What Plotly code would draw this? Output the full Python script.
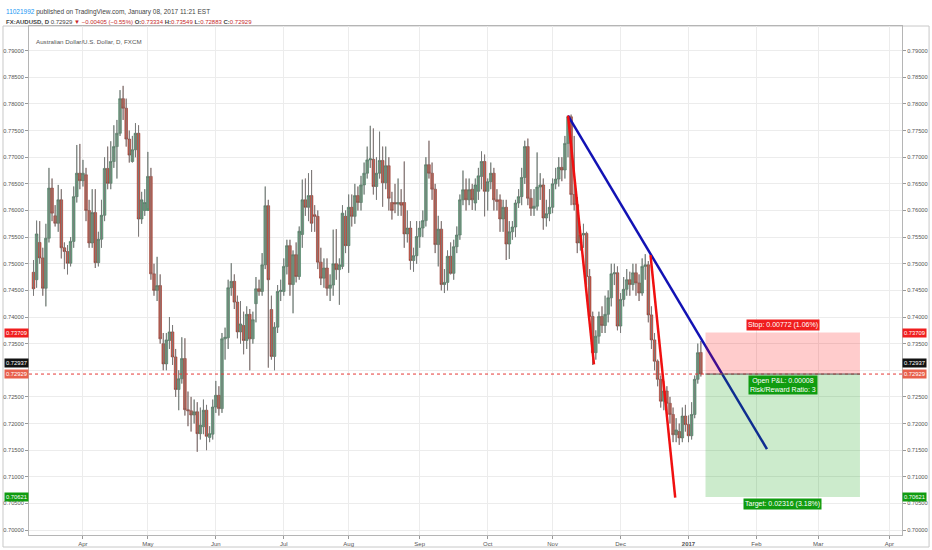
import plotly.graph_objects as go

# daily AUD/USD bars, 10 Mar 2016 .. 6 Jan 2017 (bar index = trading day)
opens = [
    .7484, .7470, .7540, .7511, .7454, .7548, .7642, .7590, .7576, .7620,
    .7530, .7523, .7501, .7542, .7626, .7670, .7656, .7667, .7600, .7539,
    .7596, .7502, .7546, .7591, .7679, .7651, .7692, .7720, .7745, .7810,
    .7792, .7734, .7692, .7714, .7745, .7584, .7600, .7600, .7664, .7481,
    .7450, .7459, .7350, .7312, .7356, .7372, .7325, .7264, .7284, .7322,
    .7226, .7224, .7216, .7222, .7181, .7194, .7225, .7174, .7180, .7231,
    .7253, .7228, .7359, .7361, .7455, .7467, .7428, .7372, .7384, .7356,
    .7405, .7359, .7425, .7453, .7448, .7498, .7609, .7414, .7326, .7381,
    .7448, .7448, .7495, .7534, .7461, .7517, .7476, .7555, .7620, .7606,
    .7628, .7592, .7589, .7503, .7473, .7492, .7454, .7460, .7500, .7489,
    .7495, .7589, .7534, .7606, .7589, .7628, .7615, .7648, .7670, .7695,
    .7696, .7645, .7670, .7694, .7652, .7684, .7615, .7615, .7612, .7615,
    .7615, .7556, .7567, .7506, .7515, .7551, .7567, .7581, .7686, .7670,
    .7640, .7536, .7565, .7461, .7465, .7514, .7482, .7532, .7554, .7620,
    .7639, .7620, .7640, .7614, .7636, .7664, .7692, .7636, .7654, .7670,
    .7620, .7620, .7584, .7606, .7537, .7560, .7569, .7614, .7626, .7662,
    .7720, .7623, .7604, .7608, .7644, .7648, .7586, .7594, .7606, .7650,
    .7659, .7681, .7676, .7726, .7776, .7630, .7611, .7539, .7554, .7557,
    .7476, .7401, .7333, .7364, .7401, .7384, .7405, .7436, .7481, .7483,
    .7383, .7433, .7452, .7470, .7461, .7483, .7464, .7445, .7495, .7498,
    .7404, .7357, .7317, .7283, .7242, .7261, .7238, .7217, .7179, .7185,
    .7173, .7214, .7198, .7177, .7217, .7283, .73334,
]
highs = [
    .7507, .7581, .7580, .7530, .7575, .7680, .7660, .7610, .7648, .7640,
    .7540, .7535, .7550, .7645, .7723, .7725, .7695, .7680, .7620, .7640,
    .7640, .7560, .7620, .7700, .7720, .7730, .7760, .7770, .7826, .7834,
    .7810, .7750, .7740, .7764, .7760, .7635, .7640, .7710, .7680, .7500,
    .7513, .7480, .7370, .7370, .7400, .7385, .7340, .7300, .7362, .7360,
    .7260, .7250, .7245, .7240, .7230, .7245, .7235, .7195, .7245, .7280,
    .7270, .7370, .7380, .7470, .7501, .7480, .7440, .7430, .7410, .7420,
    .7415, .7410, .7475, .7470, .7520, .7645, .7620, .7440, .7390, .7460,
    .7470, .7510, .7545, .7545, .7525, .7540, .7570, .7658, .7660, .7670,
    .7676, .7610, .7600, .7530, .7510, .7510, .7480, .7564, .7565, .7510,
    .7610, .7600, .7630, .7630, .7650, .7645, .7665, .7690, .7720, .7759,
    .7754, .7700, .7748, .7720, .7720, .7700, .7635, .7650, .7660, .7640,
    .7692, .7600, .7580, .7530, .7580, .7580, .7600, .7700, .7731, .7690,
    .7650, .7590, .7580, .7490, .7525, .7540, .7545, .7570, .7630, .7675,
    .7660, .7660, .7650, .7660, .7680, .7711, .7705, .7660, .7690, .7680,
    .7640, .7630, .7620, .7620, .7580, .7580, .7620, .7640, .7680, .7731,
    .7735, .7640, .7640, .7709, .7670, .7660, .7620, .7640, .7660, .7680,
    .7700, .7700, .7740, .7778, .7780, .7740, .7625, .7570, .7575, .7560,
    .7490, .7410, .7375, .7410, .7420, .7440, .7450, .7500, .7500, .7495,
    .7445, .7475, .7490, .7485, .7500, .7500, .7480, .7510, .7518, .7505,
    .7420, .7370, .7320, .7290, .7280, .7270, .7250, .7230, .7210, .7200,
    .7230, .7235, .7215, .7240, .7290, .7350, .73549,
]
lows = [
    .7440, .7455, .7500, .7440, .7420, .7540, .7580, .7570, .7560, .7510,
    .7490, .7480, .7495, .7530, .7615, .7640, .7645, .7580, .7530, .7530,
    .7492, .7495, .7530, .7580, .7640, .7640, .7680, .7660, .7740, .7770,
    .7720, .7690, .7690, .7700, .7551, .7575, .7590, .7605, .7470, .7440,
    .7430, .7350, .7300, .7300, .7340, .7310, .7250, .7225, .7275, .7215,
    .7195, .7185, .7200, .7147, .7170, .7180, .7150, .7165, .7170, .7220,
    .7215, .7220, .7320, .7340, .7440, .7415, .7360, .7350, .7330, .7340,
    .7300, .7350, .7390, .7440, .7440, .7490, .7305, .7320, .7300, .7370,
    .7430, .7440, .7480, .7440, .7407, .7465, .7470, .7530, .7590, .7580,
    .7560, .7560, .7490, .7460, .7455, .7440, .7430, .7440, .7470, .7423,
    .7490, .7520, .7483, .7570, .7575, .7600, .7600, .7630, .7660, .7680,
    .7630, .7620, .7660, .7607, .7640, .7600, .7583, .7595, .7590, .7590,
    .7530, .7540, .7489, .7485, .7500, .7530, .7550, .7570, .7660, .7620,
    .7520, .7495, .7450, .7445, .7450, .7480, .7470, .7520, .7545, .7610,
    .7600, .7610, .7601, .7600, .7620, .7640, .7589, .7600, .7640, .7600,
    .7600, .7560, .7560, .7507, .7509, .7545, .7550, .7605, .7610, .7650,
    .7610, .7590, .7590, .7600, .7620, .7564, .7570, .7580, .7595, .7640,
    .7645, .7655, .7660, .7700, .7610, .7600, .7520, .7525, .7530, .7460,
    .7390, .7310, .7320, .7350, .7370, .7370, .7390, .7420, .7460, .7375,
    .7370, .7420, .7440, .7440, .7450, .7440, .7430, .7440, .7470, .7390,
    .7340, .7300, .7270, .7230, .7225, .7220, .7200, .7165, .7165, .7160,
    .7165, .7185, .7165, .7170, .7210, .7275, .72883,
]
closes = [
    .7453, .7556, .7511, .7454, .7548, .7642, .7595, .7576, .7620, .7530,
    .7523, .7501, .7542, .7626, .7670, .7656, .7670, .7600, .7539, .7596,
    .7502, .7546, .7591, .7679, .7651, .7692, .7720, .7745, .7810, .7792,
    .7734, .7704, .7714, .7745, .7584, .7620, .7615, .7664, .7481, .7450,
    .7459, .7359, .7312, .7357, .7372, .7325, .7264, .7284, .7322, .7226,
    .7224, .7216, .7222, .7181, .7197, .7225, .7176, .7181, .7231, .7253,
    .7228, .7359, .7362, .7455, .7467, .7428, .7372, .7387, .7356, .7405,
    .7359, .7395, .7453, .7448, .7498, .7609, .7470, .7326, .7381, .7448,
    .7450, .7495, .7534, .7461, .7517, .7476, .7561, .7620, .7606, .7628,
    .7576, .7589, .7503, .7473, .7492, .7454, .7460, .7500, .7489, .7498,
    .7595, .7534, .7606, .7589, .7628, .7615, .7648, .7670, .7695, .7697,
    .7645, .7670, .7694, .7652, .7684, .7623, .7600, .7612, .7615, .7610,
    .7556, .7567, .7506, .7515, .7551, .7567, .7581, .7686, .7670, .7640,
    .7536, .7565, .7461, .7465, .7514, .7482, .7532, .7554, .7620, .7639,
    .7620, .7639, .7620, .7648, .7665, .7692, .7636, .7654, .7670, .7620,
    .7617, .7584, .7606, .7537, .7560, .7569, .7614, .7626, .7662, .7720,
    .7623, .7604, .7608, .7644, .7648, .7586, .7594, .7606, .7650, .7659,
    .7681, .7676, .7726, .7776, .7630, .7611, .7539, .7554, .7557, .7476,
    .7401, .7333, .7364, .7401, .7384, .7405, .7436, .7481, .7483, .7383,
    .7433, .7452, .7470, .7461, .7483, .7464, .7445, .7495, .7498, .7404,
    .7357, .7317, .7283, .7242, .7261, .7238, .7217, .7179, .7188, .7173,
    .7214, .7198, .7177, .7217, .7283, .7333, .72929,
]

month_ticks = [16, 37, 59, 81, 102, 125, 147, 168, 190, 212, 234, 254, 277]
month_labels = ["Apr", "May", "Jun", "Jul", "Aug", "Sep", "Oct", "Nov", "Dec",
                "<b>2017</b>", "Feb", "Mar", "Apr"]
price_ticks = [0.700 + 0.005 * k for k in range(19)]
# 0.73000 sits under the last-price tags in the original, so its label is blank
price_labels = ["" if abs(p - 0.73) < 1e-9 else f"{p:.5f}" for p in price_ticks]

# drawings on the chart (bar index, price)
blue_line = [(173, 0.7778), (237.4, 0.7152)]
red_line_1 = [(173, 0.7778), (181.4, 0.7311)]
red_line_2 = [(199.7, 0.7516), (207.7, 0.7061)]
position_bars = [217.5, 267.5]
entry, stop, target = 0.72929, 0.73709, 0.70621
last_price = 0.72937

FONT = "Liberation Sans"
X_RANGE = [-1.46, 281.1]
Y_RANGE = [0.69907, 0.79464]

x = list(range(len(closes)))
wick_x, wick_y = [], []
for i, (h, l) in enumerate(zip(highs, lows)):
    wick_x += [i, i, None]
    wick_y += [l, h, None]

fig = go.Figure()
fig.add_trace(go.Scatter(x=wick_x, y=wick_y, mode='lines',
                         line=dict(color='#7a7a7a', width=1),
                         hoverinfo='skip', showlegend=False))
fig.add_trace(go.Candlestick(
    x=x, open=opens, high=highs, low=lows, close=closes,
    increasing=dict(fillcolor='#6ba583', line=dict(color='#3f7358', width=0.6)),
    decreasing=dict(fillcolor='#d75442', line=dict(color='#8c3328', width=0.6)),
    whiskerwidth=0, showlegend=False, hoverinfo='skip'))
# right hand price scale
fig.add_trace(go.Scatter(x=[None], y=[None], yaxis='y2', showlegend=False))

# trend lines
for pts, col in [(blue_line, '#1212b4'), (red_line_1, '#f01010'), (red_line_2, '#f01010')]:
    fig.add_trace(go.Scatter(x=[p[0] for p in pts], y=[p[1] for p in pts], mode='lines',
                             line=dict(color=col, width=2.5), hoverinfo='skip',
                             showlegend=False))

# short position tool
x0, x1 = position_bars
fig.add_shape(type='rect', x0=x0, x1=x1, y0=entry, y1=stop, line_width=0,
              fillcolor='rgba(255,0,0,0.2)')
fig.add_shape(type='rect', x0=x0, x1=x1, y0=target, y1=entry, line_width=0,
              fillcolor='rgba(0,155,0,0.2)')
fig.add_shape(type='line', xref='paper', x0=0, x1=1, y0=entry, y1=entry,
              line=dict(color='#e53935', width=1, dash='dot'))
fig.add_shape(type='line', x0=x0, x1=x1, y0=entry, y1=entry,
              line=dict(color='#555555', width=1))

xc = (x0 + x1) / 2
lab_font = dict(family=FONT, size=7, color='white')
fig.add_annotation(x=xc, y=stop, text="Stop: 0.00772 (1.06%)", showarrow=False,
                   yanchor='bottom', yshift=2, bgcolor='#f01e1e', font=lab_font, borderpad=1)
fig.add_annotation(x=xc, y=entry, text="Open P&L: 0.00008<br>Risk/Reward Ratio: 3",
                   showarrow=False, yanchor='top', yshift=-1, bgcolor='#109c10',
                   font=lab_font, borderpad=1)
fig.add_annotation(x=xc, y=target, text="Target: 0.02316 (3.18%)", showarrow=False,
                   yanchor='top', yshift=-1, bgcolor='#109c10', font=lab_font, borderpad=1)

# price tags on both scales
tags = [(stop, '#f01e1e', 0), (last_price, '#111111', 11), (entry, '#e8604c', 0),
        (target, '#109c10', 0)]
for val, col, shift in tags:
    for xp, anchor in [(0, 'right'), (1, 'left')]:
        fig.add_annotation(xref='paper', x=xp, y=val, yshift=shift, text=f"{val:.5f}",
                           showarrow=False, xanchor=anchor, bgcolor=col, borderpad=1,
                           font=dict(family=FONT, size=5.8, color='white'))

# header
fig.add_annotation(xref='paper', yref='paper', x=-0.0286, y=1.0393, xanchor='left',
                   showarrow=False, font=dict(family=FONT, size=6.5, color='#444'),
                   text="<span style='color:#2196f3'>11021992</span> published on "
                        "TradingView.com, January 08, 2017 11:21 EST")
red = "<span style='color:#c62828'>{}</span>"
fig.add_annotation(xref='paper', yref='paper', x=-0.0286, y=1.0177, xanchor='left',
                   showarrow=False, font=dict(family=FONT, size=6, color='#444'),
                   text="<b>FX:AUDUSD, D</b> 0.72929 " + red.format("▼ −0.00405 (−0.55%)")
                        + " <b>O:</b>" + red.format("0.73334") + " <b>H:</b>"
                        + red.format("0.73549") + " <b>L:</b>" + red.format("0.72883")
                        + " <b>C:</b>" + red.format("0.72929"))
fig.add_annotation(xref='paper', yref='paper', x=0.006, y=0.98, xanchor='left',
                   showarrow=False, font=dict(family=FONT, size=6.2, color='#555'),
                   text="Australian Dollar/U.S. Dollar, D, FXCM")

# outer frame
fig.add_shape(type='rect', xref='paper', yref='paper', x0=-0.0298, x1=1.031,
              y0=-0.0236, y1=1.0, line=dict(color='#c8c8c8', width=1), layer='below')

yax = dict(range=Y_RANGE, tickvals=price_ticks, ticktext=price_labels, showgrid=True,
           gridcolor='#ececec', ticks='outside', ticklen=3, tickcolor='#999',
           tickfont=dict(family=FONT, size=5.7, color='#555'), zeroline=False,
           showline=True, linecolor='#b5b5b5', fixedrange=True)
fig.update_layout(
    width=932, height=550,
    margin=dict(l=29, r=30, t=26, b=15, autoexpand=False),
    paper_bgcolor='white', plot_bgcolor='white',
    boxgap=0.15, boxgroupgap=0,
    xaxis=dict(range=X_RANGE, tickvals=month_ticks, ticktext=month_labels,
               showgrid=True, gridcolor='#ececec', zeroline=False,
               rangeslider=dict(visible=False), ticks='outside', ticklen=3,
               tickcolor='#999', showline=True, linecolor='#b5b5b5', mirror=True,
               tickfont=dict(family=FONT, size=6, color='#555')),
    yaxis=dict(**yax, side='left'),
    yaxis2=dict(**yax, side='right', overlaying='y'),
    showlegend=False,
)

fig.write_html("out.html", config={'displayModeBar': False},
               post_script="document.body.style.margin='0';")
